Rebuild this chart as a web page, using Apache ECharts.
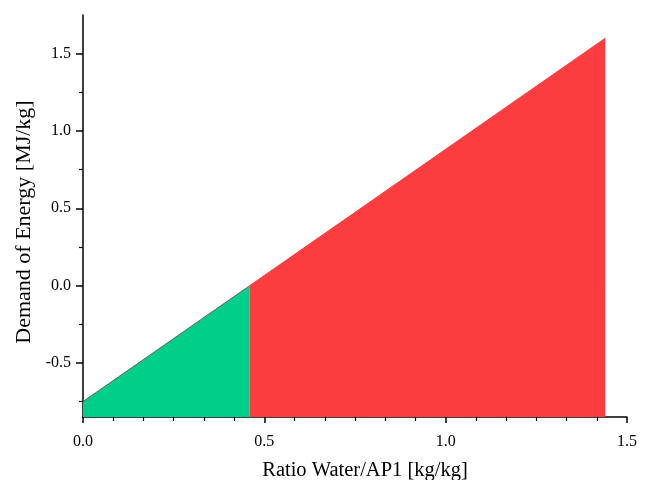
<!DOCTYPE html>
<html>
<head>
<meta charset="utf-8">
<script src="https://cdn.jsdelivr.net/npm/echarts@6/dist/echarts.min.js"></script>
<style>
    html, body { margin: 0; padding: 0; background: #fff; }
    #chart { width: 646px; height: 480px; }
</style>
</head>
<body>
<div id="chart"></div>
<script>
// 数据：比例与能量需求的折点
const ratio = [0, 0.46, 1.44];
const demand = [-0.75, 0, 1.6];
// 刻度
const xMajorTicks = [0, 0.5, 1.0, 1.5];
const yMajorTicks = [-0.5, 0, 0.5, 1.0, 1.5];
const yMinorTicks = [-0.75, -0.25, 0.25, 0.75, 1.25];

const font = '"Liberation Serif", "Times New Roman", serif';

let chart = echarts.init(document.getElementById('chart'));

// 绿色部分（能量为负）与红色部分
let greenData = [[ratio[0], demand[0]], [ratio[1], demand[1]]];
let redData = [[ratio[1], demand[1]], [ratio[2], demand[2]]];

let option = {
    animation: false,
    grid: { left: 83, right: 19, top: 15, bottom: 63, outerBoundsMode: 'none' },
    xAxis: {
        type: 'value',
        min: 0,
        max: 1.5,
        interval: 0.5,
        name: 'Ratio Water/AP1 [kg/kg]',
        nameLocation: 'middle',
        nameGap: 43,
        nameTextStyle: { fontFamily: font, fontSize: 20.5, color: '#000', padding: [0, 0, 0, 20] },
        axisLine: { show: true, onZero: false, lineStyle: { color: '#000', width: 1.5 } },
        axisTick: { show: true, length: 6, lineStyle: { color: '#000', width: 1.5 } },
        minorTick: { show: true, splitNumber: 6, length: 4, lineStyle: { color: '#000', width: 1.2 } },
        axisLabel: {
            customValues: xMajorTicks,
            margin: 17,
            fontFamily: font,
            fontSize: 16,
            color: '#000',
            formatter: v => v.toFixed(1)
        },
        splitLine: { show: false }
    },
    yAxis: [
        {
            type: 'value',
            min: -0.85,
            max: 1.75,
            name: 'Demand of Energy [MJ/kg]',
            nameLocation: 'middle',
            nameGap: 47,
            nameTextStyle: { fontFamily: font, fontSize: 22, color: '#000', padding: [0, 12, 0, 0] },
            axisLine: { show: true, onZero: false, lineStyle: { color: '#000', width: 1.5 } },
            axisTick: { show: true, customValues: yMajorTicks, length: 7, lineStyle: { color: '#000', width: 1.5 } },
            axisLabel: {
                customValues: yMajorTicks,
                margin: 12,
                fontFamily: font,
                fontSize: 16,
                color: '#000',
                formatter: v => v.toFixed(1)
            },
            splitLine: { show: false }
        },
        {
            // 次刻度
            type: 'value',
            min: -0.85,
            max: 1.75,
            position: 'left',
            axisLine: { show: false },
            axisTick: { show: true, customValues: yMinorTicks, length: 4, lineStyle: { color: '#000', width: 1.2 } },
            axisLabel: { show: false },
            splitLine: { show: false }
        }
    ],
    series: [
        {
            type: 'line',
            data: greenData,
            showSymbol: false,
            lineStyle: { color: '#666', width: 1 },
            areaStyle: { color: '#00CF89', opacity: 1, origin: 'start' },
            z: 2
        },
        {
            type: 'line',
            data: redData,
            showSymbol: false,
            lineStyle: { color: '#FB3D40', width: 1 },
            areaStyle: { color: '#FB3D40', opacity: 1, origin: 'start' },
            z: 2
        }
    ]
};
chart.setOption(option);
</script>
</body>
</html>
